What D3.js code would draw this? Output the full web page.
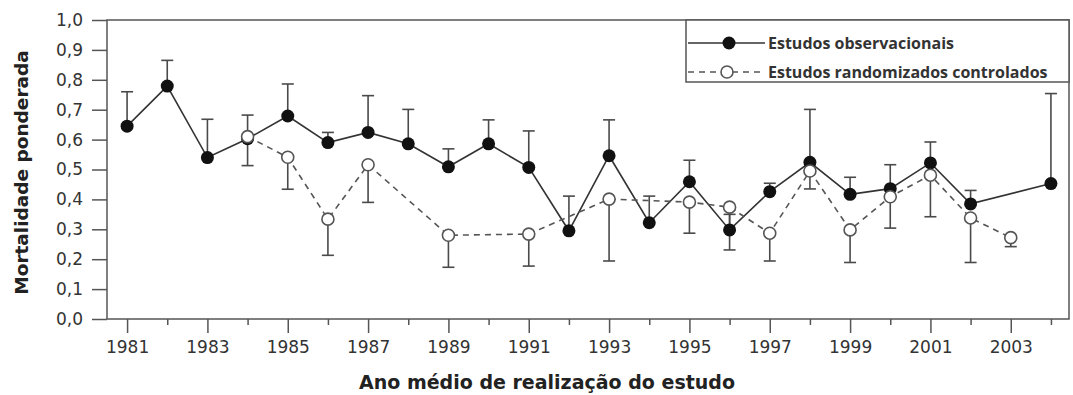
<!DOCTYPE html>
<html>
<head>
<meta charset="utf-8">
<script src="https://cdn.jsdelivr.net/npm/d3@7"></script>
<style>
  body { margin: 0; background: #fff; }
  svg { display: block; }
  .tick text { font-family: "DejaVu Sans", Verdana, sans-serif; font-size: 17px; fill: #333; }
</style>
</head>
<body>
<div id="chart"></div>
<script>
// data
var obsYears = [1981, 1982, 1983, 1984, 1985, 1986, 1987, 1988, 1989, 1990, 1991, 1992,
                1993, 1994, 1995, 1996, 1997, 1998, 1999, 2000, 2001, 2002, 2004];
var obsMean  = [0.645, 0.779, 0.540, 0.603, 0.679, 0.590, 0.624, 0.586, 0.509, 0.586, 0.507, 0.295,
                0.546, 0.322, 0.459, 0.298, 0.426, 0.524, 0.417, 0.436, 0.522, 0.385, 0.453];
var obsUpper = [0.760, 0.865, 0.668, 0.682, 0.786, 0.624, 0.747, 0.701, 0.569, 0.666, 0.629, 0.411,
                0.666, 0.411, 0.531, 0.350, 0.454, 0.701, 0.474, 0.516, 0.592, 0.430, 0.754];

var rctYears = [1984, 1985, 1986, 1987, 1989, 1991, 1993, 1995, 1996, 1997, 1998, 1999, 2000, 2001, 2002, 2003];
var rctMean  = [0.610, 0.541, 0.334, 0.516, 0.280, 0.284, 0.401, 0.391, 0.374, 0.287, 0.495, 0.298, 0.409, 0.481, 0.338, 0.272];
var rctLower = [0.513, 0.434, 0.213, 0.390, 0.173, 0.177, 0.194, 0.287, 0.231, 0.194, 0.435, 0.189, 0.304, 0.342, 0.189, 0.242];

var yTicks = [0, 0.1, 0.2, 0.3, 0.4, 0.5, 0.6, 0.7, 0.8, 0.9, 1.0];
var majorYears = [1981, 1983, 1985, 1987, 1989, 1991, 1993, 1995, 1997, 1999, 2001, 2003];
var minorYears = [1982, 1984, 1986, 1988, 1990, 1992, 1994, 1996, 1998, 2000, 2002, 2004];
var legendLabels = ["Estudos observacionais", "Estudos randomizados controlados"];

// dimensions
var W = 1073, H = 395;
var margin = {top: 20, right: 4, bottom: 76, left: 107},
    width = W - margin.left - margin.right,
    height = H - margin.top - margin.bottom;

var svgRoot = d3.select("#chart").append("svg")
  .attr("width", W)
  .attr("height", H);
var svg = svgRoot.append("g")
  .attr("transform", "translate(" + margin.left + "," + margin.top + ")");

var x = d3.scaleLinear().domain([1980.5, 2004.45]).range([0, width]);
var y = d3.scaleLinear().domain([0, 1]).range([height, 0]);

var axisColor = "#555";

// frame
svg.append("rect")
  .attr("x", 0).attr("y", 0)
  .attr("width", width).attr("height", height)
  .attr("fill", "none")
  .attr("stroke", axisColor)
  .attr("stroke-width", 1.5);

// y axis
var yAxis = svg.append("g")
  .call(d3.axisLeft(y).tickValues(yTicks).tickSize(15).tickPadding(9)
    .tickFormat(function(d) { return d3.format(".1f")(d).replace(".", ","); }));
yAxis.select(".domain").remove();
yAxis.selectAll("line").attr("stroke", axisColor).attr("stroke-width", 1.5);

// x axis (major + minor)
var xMajor = svg.append("g")
  .attr("transform", "translate(0," + height + ")")
  .call(d3.axisBottom(x).tickValues(majorYears).tickSize(14).tickPadding(8).tickFormat(d3.format("d")));
xMajor.select(".domain").remove();
xMajor.selectAll("line").attr("stroke", axisColor).attr("stroke-width", 1.5);

var xMinor = svg.append("g")
  .attr("transform", "translate(0," + height + ")")
  .call(d3.axisBottom(x).tickValues(minorYears).tickSize(6).tickFormat(""));
xMinor.select(".domain").remove();
xMinor.selectAll("line").attr("stroke", axisColor).attr("stroke-width", 1.5);

// axis titles
svgRoot.append("text")
  .attr("transform", "translate(28," + (margin.top + height / 2 + 3) + ") rotate(-90)")
  .attr("text-anchor", "middle")
  .style("font-family", "'DejaVu Sans', Verdana, sans-serif")
  .style("font-weight", "bold")
  .style("font-size", "18.5px")
  .style("fill", "#222")
  .text("Mortalidade ponderada");

svgRoot.append("text")
  .attr("x", 547)
  .attr("y", 389)
  .attr("text-anchor", "middle")
  .style("font-family", "'DejaVu Sans', Verdana, sans-serif")
  .style("font-weight", "bold")
  .style("font-size", "19px")
  .style("fill", "#222")
  .text("Ano médio de realização do estudo");

var obs = obsYears.map(function(d, i) { return {year: d, mean: obsMean[i], upper: obsUpper[i]}; });
var rct = rctYears.map(function(d, i) { return {year: d, mean: rctMean[i], lower: rctLower[i]}; });

var line = d3.line()
  .x(function(d) { return x(d.year); })
  .y(function(d) { return y(d.mean); });

var barColor = "#4a4a4a", capW = 6;

// error bars
function errorBars(data, key, cls) {
  var g = svg.append("g").attr("class", cls);
  g.selectAll("line.v").data(data).enter().append("line")
    .attr("x1", function(d) { return x(d.year); })
    .attr("x2", function(d) { return x(d.year); })
    .attr("y1", function(d) { return y(d.mean); })
    .attr("y2", function(d) { return y(d[key]); })
    .attr("stroke", barColor).attr("stroke-width", 1.6);
  g.selectAll("line.c").data(data).enter().append("line")
    .attr("x1", function(d) { return x(d.year) - capW; })
    .attr("x2", function(d) { return x(d.year) + capW; })
    .attr("y1", function(d) { return y(d[key]); })
    .attr("y2", function(d) { return y(d[key]); })
    .attr("stroke", barColor).attr("stroke-width", 1.6);
}
errorBars(obs, "upper", "obs-err");
errorBars(rct, "lower", "rct-err");

// observational series
svg.append("path")
  .datum(obs)
  .attr("d", line)
  .attr("fill", "none")
  .attr("stroke", "#333")
  .attr("stroke-width", 1.6);

// RCT series
svg.append("path")
  .datum(rct)
  .attr("d", line)
  .attr("fill", "none")
  .attr("stroke", "#555")
  .attr("stroke-width", 1.6)
  .attr("stroke-dasharray", "6,5");

svg.selectAll("circle.obs")
  .data(obs).enter().append("circle")
  .attr("class", "obs")
  .attr("cx", function(d) { return x(d.year); })
  .attr("cy", function(d) { return y(d.mean); })
  .attr("r", 6.5)
  .attr("fill", "#111");

svg.selectAll("circle.rct")
  .data(rct).enter().append("circle")
  .attr("class", "rct")
  .attr("cx", function(d) { return x(d.year); })
  .attr("cy", function(d) { return y(d.mean); })
  .attr("r", 6)
  .attr("fill", "#fff")
  .attr("stroke", "#555")
  .attr("stroke-width", 1.6);

// legend
var lgX = 686 - margin.left, lgW = width - lgX;
var legend = svg.append("g");
legend.append("rect")
  .attr("x", lgX).attr("y", 0)
  .attr("width", lgW).attr("height", 62)
  .attr("fill", "#fff")
  .attr("stroke", axisColor)
  .attr("stroke-width", 1.5);

var rows = [23, 52];
legend.append("line")
  .attr("x1", lgX + 2).attr("x2", lgX + 79)
  .attr("y1", rows[0]).attr("y2", rows[0])
  .attr("stroke", "#333").attr("stroke-width", 1.6);
legend.append("circle")
  .attr("cx", lgX + 43).attr("cy", rows[0]).attr("r", 6.5).attr("fill", "#111");
legend.append("line")
  .attr("x1", lgX + 2).attr("x2", lgX + 79)
  .attr("y1", rows[1]).attr("y2", rows[1])
  .attr("stroke", "#555").attr("stroke-width", 1.6)
  .attr("stroke-dasharray", "6,5");
legend.append("circle")
  .attr("cx", lgX + 41).attr("cy", rows[1]).attr("r", 6)
  .attr("fill", "#fff").attr("stroke", "#555").attr("stroke-width", 1.6);

legend.selectAll("text.lg")
  .data(legendLabels).enter().append("text")
  .attr("class", "lg")
  .attr("x", lgX + 82)
  .attr("y", function(d, i) { return rows[i]; })
  .attr("dy", "0.35em")
  .style("font-family", "'Open Sans', sans-serif")
  .style("font-weight", "bold")
  .style("font-size", "16px")
  .style("fill", "#333")
  .text(function(d) { return d; });
</script>
</body>
</html>
